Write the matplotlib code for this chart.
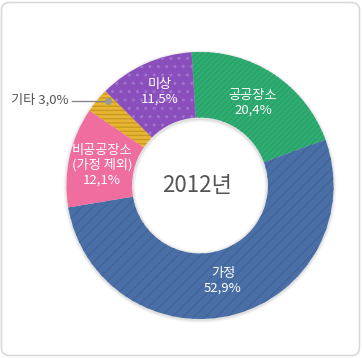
import matplotlib.pyplot as plt
from matplotlib.patches import FancyBboxPatch

plt.rcParams['font.family'] = ['Noto Sans CJK KR', 'DejaVu Sans']

# 데이터
labels = ['공공장소', '가정', '비공공장소\n(가정 제외)', '기타', '미상']
values = [20.4, 52.9, 12.1, 3.0, 11.5]
colors = ['#2fae74', '#4a6fa6', '#ef6d9f', '#e8b532', '#8a4fbc']
hatch_colors = ['#29a066', '#42659a', '#ef6d9f', '#c99a22', '#a074cc']
hatches = ['//////', '///', None, '----', '..']
year = '2012년'

W, H = 362, 358
fig = plt.figure(figsize=(W / 100, H / 100), dpi=100)
ax = fig.add_axes([0, 0, 1, 1])
ax.set_xlim(0, W)
ax.set_ylim(0, H)
ax.set_aspect('equal')
ax.axis('off')

# 테두리
ax.add_patch(FancyBboxPatch((1.5, 2.5), W - 4, H - 5, boxstyle='round,pad=0,rounding_size=8',
                            facecolor='white', edgecolor='#d9d9d9', linewidth=1.2))

cx, cy = 200, H - 185.5
R = 133.5

# 그림자
for i, a in enumerate([0.05, 0.04, 0.03]):
    ax.pie([1], radius=R + 1 + i, center=(cx, cy - 1), colors=['#000000'],
           wedgeprops=dict(width=68 + 2 * i, alpha=a, linewidth=0))

wedges, _ = ax.pie(values, radius=R, center=(cx, cy), startangle=93.6,
                   counterclock=False, colors=colors,
                   wedgeprops=dict(width=R - 68, linewidth=0))
plt.rcParams['hatch.linewidth'] = 1.0
for w, h, hc in zip(wedges, hatches, hatch_colors):
    if h:
        w.set_hatch(h)
        w.set_edgecolor(hc)
        w.set_linewidth(0)

ax.set_xlim(0, W)
ax.set_ylim(0, H)

# 라벨
def lab(x, y, s):
    ax.text(x, H - y, s, ha='center', va='center', fontsize=9.5, color='white',
            linespacing=1.15, fontweight='medium')

lab(253, 103, f'{labels[0]}\n{values[0]:.1f}%'.replace('.', ','))
lab(223, 281, f'{labels[1]}\n{values[1]:.1f}%'.replace('.', ','))
lab(102, 165, f'{labels[2]}\n{values[2]:.1f}%'.replace('.', ','))
lab(160, 92, f'{labels[4]}\n{values[4]:.1f}%'.replace('.', ','))

ax.text(40, H - 100, f'{labels[3]} {values[3]:.1f}%'.replace('.', ','), ha='center', va='center',
        fontsize=9.5, color='#555555')
ax.plot([72, 108], [H - 101, H - 101], color='#888888', linewidth=1)
ax.plot([108], [H - 101], 'o', color='#999999', markersize=4)

ax.text(cx - 3, cy, year, ha='center', va='center', fontsize=16, color='#555555')

fig.savefig('out.png', dpi=100)
